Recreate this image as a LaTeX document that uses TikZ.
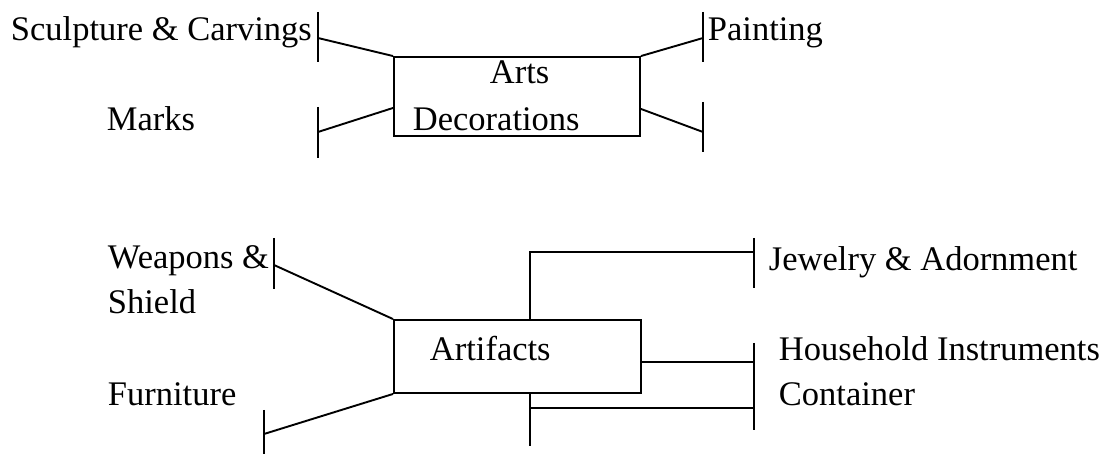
\documentclass[tikz,border=0pt]{standalone}
\usepackage{fontspec}
\setmainfont{Liberation Serif}
\begin{document}
\begin{tikzpicture}[x=1pt,y=-1pt,line width=1.9pt,
  lbl/.style={anchor=base west,inner sep=0pt,font=\fontsize{34.5}{40}\selectfont},
  catbox/.style={draw,line width=1.9pt,inner sep=0pt,rectangle},
  tick/.style={line width=1.9pt},
  link/.style={line width=1.9pt}]
\useasboundingbox (0,0) rectangle (1104,454);

% ---- Arts & Decorations ----
\node[catbox,minimum width=246pt,minimum height=79pt] (arts) at (517,96.5) {};
\node[lbl] (artsA) at (489,84) {Arts};
\node[lbl] (artsB) at (412,131) {Decorations};

\node[lbl] (sculpt) at (10,41) {Sculpture \& Carvings};
\node[lbl] (paint) at (707,41) {Painting};
\node[lbl] (marks) at (106,131) {Marks};

% tick bars
\coordinate (tA1) at (318,12);  \coordinate (tA2) at (318,62);
\coordinate (tB1) at (318,107); \coordinate (tB2) at (318,158);
\coordinate (tC1) at (703,12);  \coordinate (tC2) at (703,62);
\coordinate (tD1) at (703,102); \coordinate (tD2) at (703,152);
\draw[tick] (tA1) -- (tA2);
\draw[tick] (tB1) -- (tB2);
\draw[tick] (tC1) -- (tC2);
\draw[tick] (tD1) -- (tD2);

\coordinate (eA) at (318,38);
\coordinate (eB) at (318,132);
\coordinate (eC) at (703,38);
\coordinate (eD) at (703,132);
\draw[link] (eA) -- (arts.north west);
\draw[link] (eB) -- ([yshift=29pt]arts.south west);
\draw[link] (arts.north east) -- (eC);
\draw[link] ([yshift=28pt]arts.south east) -- (eD);

% ---- Artifacts ----
\node[catbox,minimum width=247pt,minimum height=73pt] (arti) at (517.5,356.5) {};
\node[lbl] (artiT) at (429,361) {Artifacts};

\node[lbl] (weap) at (107,269) {Weapons \&};
\node[lbl] (shield) at (107,314) {Shield};
\node[lbl] (furn) at (107,406) {Furniture};
\node[lbl] (jewel) at (768,271) {Jewelry \& Adornment};
\node[lbl] (house) at (778,361) {Household Instruments};
\node[lbl] (cont) at (778,406) {Container};

\coordinate (tE1) at (274,238); \coordinate (tE2) at (274,289);
\coordinate (tF1) at (264,410); \coordinate (tF2) at (264,456);
\coordinate (tG1) at (754,238); \coordinate (tG2) at (754,288);
\coordinate (tH1) at (754,343); \coordinate (tH2) at (754,430);
\draw[tick] (tE1) -- (tE2);
\draw[tick] (tF1) -- (tF2);
\draw[tick] (tG1) -- (tG2);
\draw[tick] (tH1) -- (tH2);

\coordinate (eE) at (274,265);
\coordinate (eF) at (264,434);
\coordinate (eG) at (754,252);
\coordinate (eH) at (754,362);
\coordinate (eI) at (754,408);
\coordinate (stemJ) at (530,252);
\coordinate (stemC) at (530,446);
\coordinate (forkC) at (530,408);

\draw[link] (eE) -- (arti.north west);
\draw[link] (eF) -- (arti.south west);
\draw[link] (arti.north -| stemJ) -- (stemJ) -- (eG);
\draw[link] (arti.east |- eH) -- (eH);
\draw[link] (arti.south -| stemC) -- (stemC);
\draw[link] (forkC) -- (eI);
\end{tikzpicture}
\end{document}
